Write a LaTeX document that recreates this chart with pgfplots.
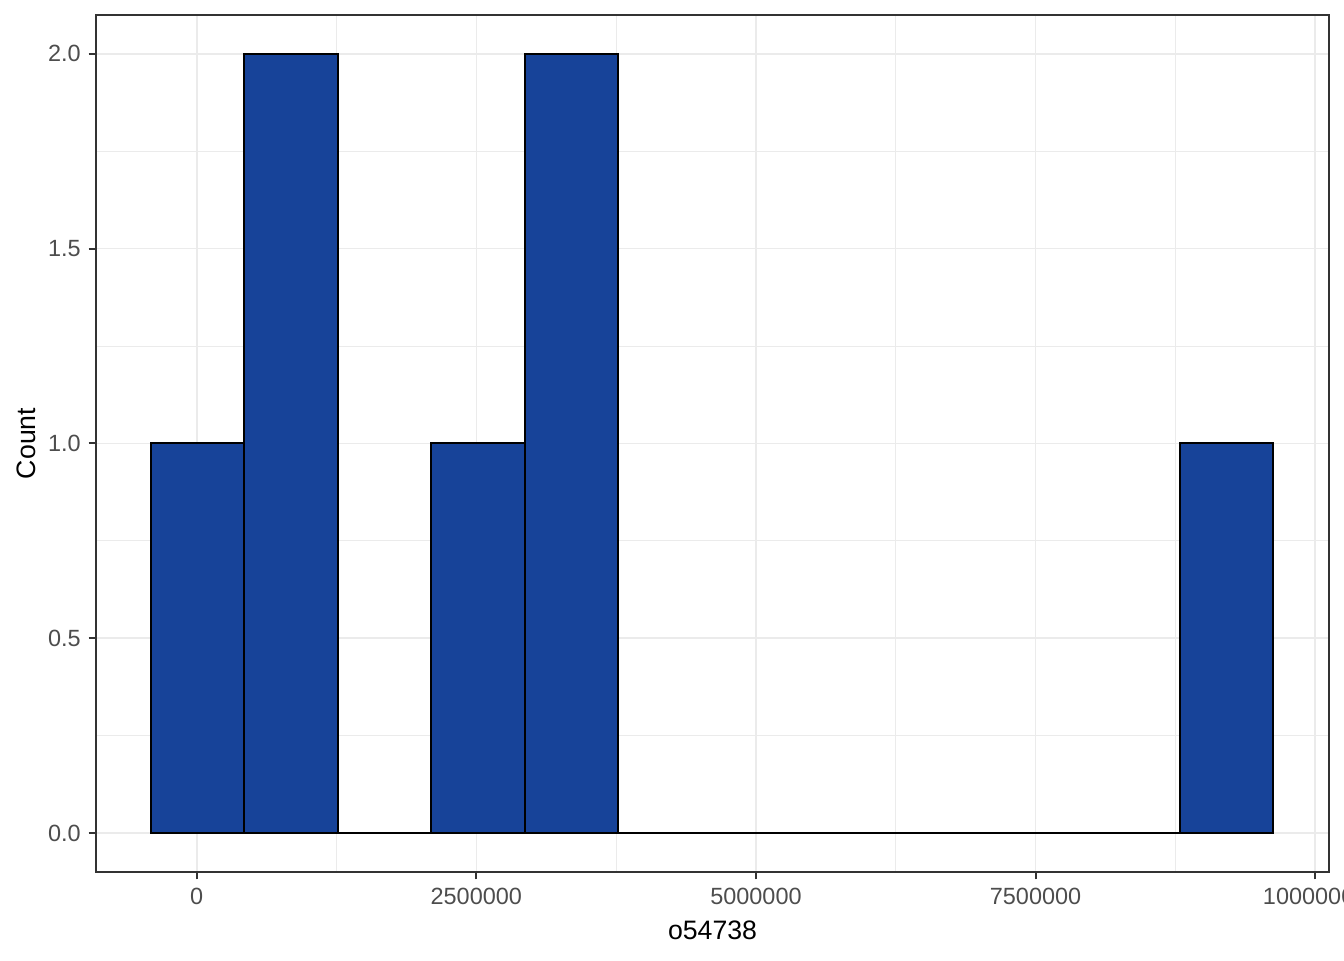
\documentclass[border=0pt]{standalone}
\usepackage{pgfplots}
\pgfplotsset{compat=1.18}
\usepackage{fontspec}
\setmainfont{Liberation Sans}
\definecolor{barfill}{RGB}{23,67,153}
\definecolor{gridmaj}{RGB}{235,235,235}
\definecolor{frame}{RGB}{51,51,51}
\definecolor{ticklab}{RGB}{77,77,77}
\begin{document}
\begin{tikzpicture}
\begin{axis}[
    scale only axis,
    width=462.4pt, height=321.4pt,
    xmin=-900400, xmax=10124000,
    ymin=-0.1, ymax=2.1,
    axis line style={frame, line width=0.75pt},
    xtick={0,2500000,5000000,7500000,10000000},
    xticklabels={0,2500000,5000000,7500000,10000000},
    minor xtick={1250000,3750000,6250000,8750000},
    ytick={0,0.5,1,1.5,2},
    yticklabels={0.0,0.5,1.0,1.5,2.0},
    minor ytick={0.25,0.75,1.25,1.75},
    scaled x ticks=false,
    tick align=outside,
    major tick length=2.75pt,
    minor tick length=0pt,
    tick style={frame, line width=0.75pt},
    xtick pos=bottom, ytick pos=left,
    grid=both,
    major grid style={gridmaj, line width=0.6pt},
    minor grid style={gridmaj, line width=0.3pt},
    tick label style={font=\fontsize{8.8}{10}\selectfont, text=ticklab, inner sep=0pt},
    xticklabel style={anchor=north, yshift=-3pt},
    yticklabel style={anchor=east, xshift=-2.75pt},
    xlabel={o54738},
    ylabel={Count},
    label style={font=\fontsize{11}{13}\selectfont},
    every axis x label/.style={at={(axis description cs:0.5,0)}, yshift=-21.75pt, anchor=center},
    every axis y label/.style={at={(axis description cs:0,0.5)}, xshift=-26pt, rotate=90, anchor=center},
]
\addplot[ybar interval, fill=barfill, draw=black, line width=0.75pt]
    coordinates {
    (-411300,1) (425140,2) (1261580,0) (2098020,1) (2934460,2) (3770900,0)
    (4607340,0) (5443780,0) (6280220,0) (7116660,0) (7953100,0) (8789540,1)
    (9625980,1)
    };
\end{axis}
\pgfresetboundingbox
\path (-36pt,-33pt) rectangle (468pt,327pt);
\end{tikzpicture}
\end{document}
